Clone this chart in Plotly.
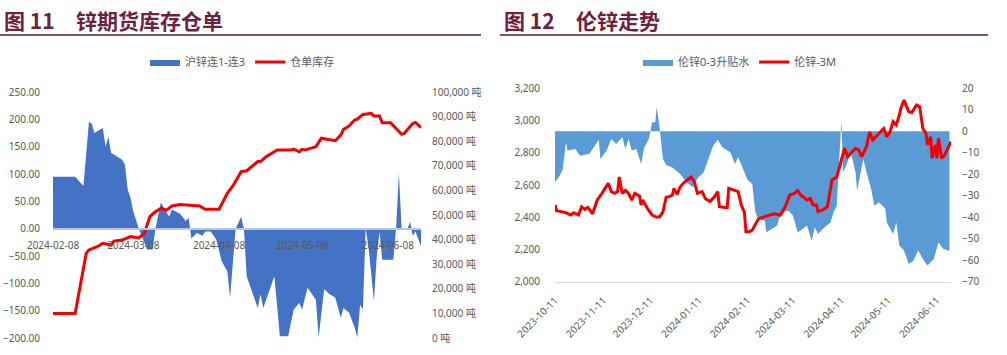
import plotly.graph_objects as go
import pandas as pd

W, H = 1007, 355

# ---------------- Left chart: 锌期货库存仓单 ----------------
shfe_start = "2024-02-08"
spread_days = [0, 8, 11, 13, 14, 15, 18, 19, 20, 21, 25, 26, 27, 28, 29, 31, 34, 36, 37, 39,
               41, 42, 43, 46, 48, 49, 50, 52, 54, 55, 57, 59, 61, 63, 64, 65, 66, 68, 69, 70,
               74, 75, 76, 80, 82, 85, 87, 89, 90, 92, 95, 96, 98, 100, 102, 104, 105, 107, 109, 110,
               111, 112, 113, 114, 116, 117, 118, 119, 123, 124, 125, 126, 128, 129, 130, 131, 133]
spread_vals = [95, 95, 78, 196, 192, 175, 184, 150, 168, 139, 126, 117, 71, 57, 32, 0, -38, -38, 0, 48,
               30, 22, 35, 27, 14, 20, -18, -8, -13, -5, -5, -20, -60, -78, -126, -55, 0, 22, 0, -87,
               -145, -120, -145, -87, -197, -197, -148, -136, -148, -108, -130, -199, -111, -120, -126, -163, -145, -154, -181, -199,
               -139, -148, 0, -32, -133, -51, -5, -57, -57, 0, 102, 0, -3, 13, -13, -5, -32]
warrant_days = [0, 8, 12, 13, 16, 18, 21, 22, 25, 28, 31, 33, 35, 37, 39, 41, 43, 46, 53, 55,
                60, 63, 65, 68, 70, 71, 74, 75, 77, 81, 86, 87, 89, 90, 91, 95, 97, 99, 102, 104,
                105, 107, 109, 110, 112, 115, 116, 118, 119, 122, 124, 126, 127, 130, 131, 133]
warrant_vals = [10000, 10000, 34400, 35800, 37100, 38500, 37800, 39400, 39800, 41200,
                40700, 42500, 49300, 51300, 52700, 52000, 53700, 54300, 53700, 52300,
                52300, 58800, 61800, 67600, 68000, 69000, 71700, 71700, 73700, 76400,
                76400, 76800, 75700, 76700, 76400, 77800, 81200, 80800, 80200, 82500,
                84800, 86200, 88600, 89000, 90900, 91300, 90200, 90200, 87500, 87500,
                85200, 82800, 83200, 87200, 87600, 85500]
left_ticks = ["2024-02-08", "2024-03-08", "2024-04-08", "2024-05-08", "2024-06-08"]

# ---------------- Right chart: 伦锌走势 ----------------
lme_start = "2023-10-11"
basis_days = [0, 3, 5, 7, 8, 13, 16, 20, 22, 24, 28, 29, 33, 36, 39, 43, 45, 47, 49, 52,
              55, 57, 60, 62, 64, 65, 67, 68, 69, 71, 75, 80, 84, 88, 91, 95, 98, 101, 104, 107,
              112, 115, 117, 120, 123, 126, 128, 130, 134, 135, 138, 142, 143, 146, 149, 152, 155, 157, 161, 164,
              166, 168, 171, 176, 178, 180, 181, 183, 184, 186, 189, 192, 193, 195, 197, 199, 202, 204, 207, 211,
              212, 216, 218, 220, 223, 226, 229, 232, 235, 238, 242, 245, 248, 251, 252]
basis_vals = [-23.7, -20.7, -17.5, -5.1, -9, -8.2, -11.4, -11, -10.5, -8.2,
              -4, -12.9, -9, -3.6, -5.9, -2.8, -8.2, -3.6, -9, -8.2,
              -15.2, -7.5, -3.6, 4.2, 4.2, 11.2, 1, -6.7, -12.9, -15.7,
              -16.8, -19.9, -23.7, -26, -22, -19.1, -12.9, -6.7, -4, -7.5,
              -9.8, -15.2, -12, -17.5, -22.5, -24.5, -37.7, -40.8, -41.6, -47,
              -45.5, -43.9, -40.8, -37.7, -36.9, -39.2, -47, -46.2, -43.9, -50.9,
              -44.7, -47.8, -45.5, -42.4, -37.7, -34.6, -20.7, 4.9, -19.1, -16,
              -9.8, -19.1, -27.6, -20.7, -12.9, -19.1, -26.9, -34.6, -33, -36.1,
              -42.4, -47.8, -42.4, -53.2, -55.5, -61.8, -60.2, -55.5, -59.4, -62.5,
              -59.4, -51.7, -54.7, -55.5, -55.5]
price_days = [0, 1, 4, 7, 10, 12, 15, 17, 19, 21, 24, 27, 30, 33, 34, 36, 38, 40, 41, 43,
              45, 47, 49, 51, 54, 55, 56, 59, 62, 65, 67, 69, 71, 73, 75, 76, 78, 80, 83, 87,
              89, 91, 94, 96, 99, 102, 104, 105, 110, 111, 114, 117, 119, 121, 122, 124, 126, 128, 130, 134,
              137, 140, 144, 147, 150, 153, 155, 157, 161, 163, 165, 167, 168, 171, 174, 177, 180, 182, 185, 187,
              189, 192, 194, 196, 199, 201, 203, 205, 210, 212, 214, 216, 218, 220, 221, 223, 226, 228, 231, 233,
              235, 237, 238, 240, 241, 243, 244, 245, 247, 249, 251, 253]
price_vals = [2476, 2441, 2435, 2428, 2414, 2428, 2414, 2465, 2449, 2461,
              2421, 2507, 2548, 2589, 2610, 2559, 2548, 2559, 2650, 2548,
              2567, 2548, 2507, 2548, 2532, 2476, 2507, 2455, 2414, 2400,
              2404, 2435, 2524, 2528, 2538, 2579, 2542, 2589, 2620, 2650,
              2620, 2548, 2559, 2517, 2497, 2528, 2559, 2465, 2459, 2579,
              2569, 2559, 2476, 2430, 2310, 2310, 2320, 2352, 2390, 2404,
              2414, 2421, 2414, 2465, 2538, 2548, 2565, 2538, 2507, 2517,
              2476, 2476, 2435, 2445, 2465, 2631, 2650, 2724, 2828, 2776,
              2797, 2828, 2818, 2776, 2838, 2929, 2879, 2900, 2951, 2900,
              2929, 2993, 2973, 3034, 3076, 3127, 3055, 3050, 3096, 3086,
              2951, 2920, 2848, 2900, 2766, 2848, 2766, 2890, 2766, 2787,
              2828, 2869]
right_ticks = ["2023-10-11", "2023-11-11", "2023-12-11", "2024-01-11", "2024-02-11",
               "2024-03-11", "2024-04-11", "2024-05-11", "2024-06-11"]


def to_dates(start, days):
    return pd.Timestamp(start) + pd.to_timedelta(days, unit="D")


def px(x):
    return x / W


def py(y):
    return 1 - y / H


FONT = "Noto Sans, Noto Sans CJK SC, sans-serif"
GRAY = "#595959"
TITLE_C = "#6E2040"
RED = "#F50000"

fig = go.Figure()

fig.add_trace(go.Scatter(
    x=to_dates(shfe_start, spread_days), y=spread_vals, name="沪锌连1-连3",
    mode="lines", fill="tozeroy", fillcolor="#4472C4",
    line=dict(width=0, color="#4472C4"), xaxis="x", yaxis="y", legend="legend"))
fig.add_trace(go.Scatter(
    x=to_dates(shfe_start, warrant_days), y=warrant_vals, name="仓单库存",
    mode="lines", line=dict(width=3, color=RED), xaxis="x", yaxis="y2", legend="legend"))
fig.add_trace(go.Scatter(
    x=to_dates(lme_start, basis_days), y=basis_vals, name="伦锌0-3升贴水",
    mode="lines", fill="tozeroy", fillcolor="#5B9BD5",
    line=dict(width=0, color="#5B9BD5"), xaxis="x2", yaxis="y3", legend="legend2"))
fig.add_trace(go.Scatter(
    x=to_dates(lme_start, price_days), y=price_vals, name="伦锌-3M",
    mode="lines", line=dict(width=3, color=RED), xaxis="x2", yaxis="y4", legend="legend2"))

tickfont = dict(family=FONT, size=10, color=GRAY)

shfe_end = to_dates(shfe_start, [133])[0]
lme_end = to_dates(lme_start, [253])[0]

fig.update_layout(
    width=W, height=H, margin=dict(l=0, r=0, t=0, b=0, autoexpand=False),
    paper_bgcolor="white", plot_bgcolor="white",
    font=dict(family=FONT, color=GRAY),
    xaxis=dict(domain=[px(53), px(421)], type="date",
               range=[pd.Timestamp(shfe_start), shfe_end],
               anchor="free", position=py(229),
               tickvals=left_ticks, ticktext=left_ticks,
               showline=True, linecolor="#B4C7E7", linewidth=2,
               showgrid=False, zeroline=False, ticks="", tickfont=tickfont,
               ticklabelstandoff=7, layer="above traces", automargin=False),
    yaxis=dict(domain=[py(338), py(92)], range=[-200, 250], dtick=50,
               tickformat=".2f", anchor="x", showgrid=False, zeroline=False,
               showline=False, ticks="", tickfont=tickfont, ticklabelstandoff=12,
               automargin=False),
    yaxis2=dict(domain=[py(338), py(92)], range=[0, 100000], dtick=10000,
                tickformat=",", ticksuffix=" 吨", overlaying="y", side="right",
                anchor="x", showgrid=False, zeroline=False, showline=False,
                ticks="", tickfont=tickfont, ticklabelstandoff=10, automargin=False),
    xaxis2=dict(domain=[px(555), px(951)], type="date",
                range=[pd.Timestamp(lme_start), lme_end], anchor="y3",
                tickvals=right_ticks, ticktext=right_ticks, tickangle=-45,
                showline=True, linecolor="#D9D9D9", linewidth=1,
                showgrid=False, zeroline=False, ticks="", tickfont=tickfont,
                ticklabelstandoff=8, automargin=False),
    yaxis3=dict(domain=[py(281.7), py(88.3)], range=[-70, 20], dtick=10,
                side="right", anchor="x2", showgrid=False, zeroline=False,
                showline=False, ticks="", tickfont=tickfont, ticklabelstandoff=10,
                automargin=False),
    yaxis4=dict(domain=[py(281.7), py(88.3)], range=[2000, 3200], dtick=200,
                tickformat=",", side="left", overlaying="y3", anchor="x2",
                showgrid=False, zeroline=False, showline=False, ticks="",
                tickfont=tickfont, ticklabelstandoff=14, automargin=False),
    legend=dict(orientation="h", x=px(145), xanchor="left", y=py(62), yanchor="middle",
                font=dict(family=FONT, size=11, color=GRAY), bgcolor="rgba(0,0,0,0)",
                itemwidth=30, traceorder="normal"),
    legend2=dict(orientation="h", x=px(638), xanchor="left", y=py(62), yanchor="middle",
                 font=dict(family=FONT, size=11, color=GRAY), bgcolor="rgba(0,0,0,0)",
                 itemwidth=30, traceorder="normal"),
    showlegend=True,
)

# Titles and rules
title_font = dict(family="Noto Sans CJK SC", size=21, color=TITLE_C, weight="bold")
for x0, txt in [(2, "图 11"), (74, "锌期货库存仓单"), (502, "图 12"), (574, "伦锌走势")]:
    fig.add_annotation(x=px(x0), y=py(20), xref="paper", yref="paper", text=txt,
                       showarrow=False, xanchor="left", yanchor="middle", font=title_font)
for x0, x1 in [(0, 481), (500, 988)]:
    fig.add_shape(type="line", xref="paper", yref="paper", x0=px(x0), x1=px(x1),
                  y0=py(35), y1=py(35), line=dict(color="#5A1A33", width=1.5))

fig.write_html("out.html")
